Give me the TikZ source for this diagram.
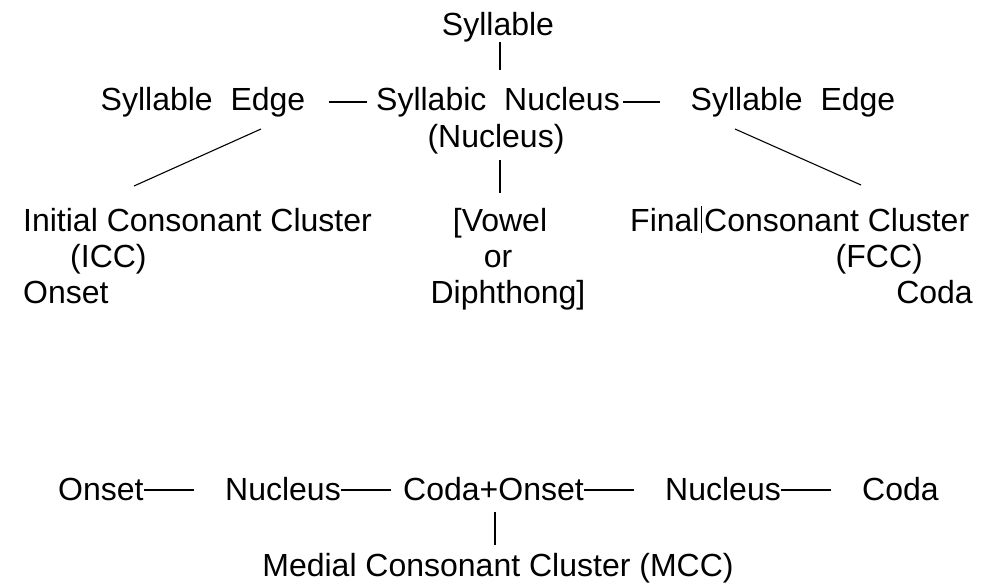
\documentclass[tikz,border=0pt]{standalone}
\usepackage{fontspec}
\setmainfont{Liberation Sans}
\begin{document}
\begin{tikzpicture}[x=1pt,y=-1pt,
  lbl/.style={inner sep=0pt,font=\fontsize{32}{38}\selectfont},
  link/.style={line width=1.1pt,black}]
\useasboundingbox (0,0) rectangle (993,584);

% upper tree
\node[lbl,anchor=base] (syl) at (498,35) {Syllable};
\node[lbl,anchor=base] (edgeL) at (203,110) {Syllable\ \ Edge};
\node[lbl,anchor=base] (nuc) at (498,110) {Syllabic\ \ Nucleus};
\node[lbl,anchor=base] (nucb) at (496,147) {(Nucleus)};
\node[lbl,anchor=base] (edgeR) at (793,110) {Syllable\ \ Edge};

\node[lbl,anchor=base west] (icc) at (23,231) {Initial Consonant Cluster};
\node[lbl,anchor=base west] (iccb) at (70,267) {(ICC)};
\node[lbl,anchor=base west] (onsetT) at (23,303) {Onset};

\node[lbl,anchor=base] (vow) at (500,231) {[Vowel};
\node[lbl,anchor=base] (or) at (498,267) {or};
\node[lbl,anchor=base] (diph) at (508,303) {Diphthong]};

\node[lbl,anchor=base west] (fin) at (630,231) {Final};
\node[lbl,anchor=base west] (fcc) at (704,231) {Consonant Cluster};
\node[lbl,anchor=base east] (fccb) at (923,267) {(FCC)};
\node[lbl,anchor=base east] (codaT) at (973,303) {Coda};

% ends of the slanted branches
\coordinate (edgeLfoot) at (261,129);
\coordinate (iccTop) at (134,186);
\coordinate (edgeRfoot) at (735,129);
\coordinate (fccTop) at (861,185);

\draw[link] (500,42) -- (500,70);
\draw[link] (500,160) -- (500,193);
\draw[link] ([xshift=24pt,yshift=8pt]edgeL.base east) -- ([xshift=-9pt,yshift=8pt]nuc.base west);
\draw[link] ([xshift=3pt,yshift=8pt]nuc.base east) -- ([xshift=-31pt,yshift=8pt]edgeR.base west);
\draw[link] (edgeLfoot) -- (iccTop);
\draw[link] (edgeRfoot) -- (fccTop);
\draw[line width=1.2pt] ([xshift=1.5pt,yshift=-2pt]fin.base east) -- ([xshift=1.5pt,yshift=25pt]fin.base east);

% lower chain
\node[lbl,anchor=base west] (on1) at (58,500) {Onset};
\node[lbl,anchor=base west] (nu1) at (225,500) {Nucleus};
\node[lbl,anchor=base west] (co1) at (403,500) {Coda+Onset};
\node[lbl,anchor=base west] (nu2) at (665,500) {Nucleus};
\node[lbl,anchor=base west] (co2) at (862,500) {Coda};
\node[lbl,anchor=base] (mcc) at (498,576) {Medial Consonant Cluster (MCC)};

\foreach \a/\b in {on1/nu1,nu1/co1,co1/nu2,nu2/co2}
  \draw[link] ([yshift=10pt]\a.base east) -- ++(50,0);
\draw[link] (495,512) -- (495,545);
\end{tikzpicture}
\end{document}
